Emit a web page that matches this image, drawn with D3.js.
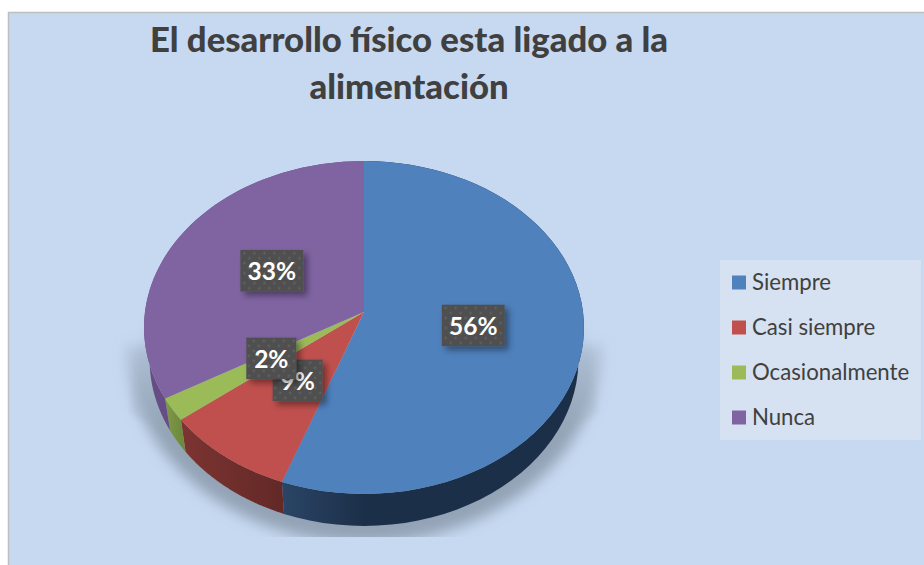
<!DOCTYPE html>
<html><head><meta charset="utf-8">
<script src="https://cdn.jsdelivr.net/npm/d3@7"></script>
<style>html,body{margin:0;padding:0;background:#fff;overflow:hidden}svg{display:block}text{font-family:Lato,"Open Sans",sans-serif}</style>
</head><body><svg id="c" width="924" height="565"></svg>
<script>
const categories = ["Siempre","Casi siempre","Ocasionalmente","Nunca"];
const counts = [25,4,1,15];
const faceColors = ["#4f81bd","#c0504d","#9bbb59","#8064a2"];
const wallLight = ["#2a4566","#7c3431","#7f9a48","#674d85"];
const wallDark = ["#1c2f49","#632927","#6f8a3d","#5b4476"];
const titleLines = ["El desarrollo físico esta ligado a la","alimentación"];

const W=924,H=565,cx=364,cy=312,a=219,b=165,k=0.0931,depth=32,wallTaper=0.975,labelR=0.5;
const svg=d3.select("#c");
const defs=svg.append("defs");
const total=d3.sum(counts);
const pct=d3.format(".0%");
const arcs=d3.pie().sort(null).value(d=>d)(counts);
const proj=(t,r=1)=>{const u=r*Math.sin(t),v=-r*Math.cos(t),w=1-k*v;return [cx+a*u/w,cy+b*v/w];};
const line=d3.line();
const samples=(s,e)=>d3.range(0,61).map(i=>s+(e-s)*i/60);

// background
svg.append("rect").attr("x",8.5).attr("y",12.5).attr("width",W).attr("height",H).attr("fill","#c6d9f1").attr("stroke","#bfbfbf").attr("stroke-width",1.5);

// soft shadow: a faint wedge on each side and a darker band hugging the wall
const blur=(id,sd)=>defs.append("filter").attr("id",id).attr("x","-20%").attr("y","-20%").attr("width","140%").attr("height","140%").append("feGaussianBlur").attr("stdDeviation",sd);
blur("blurBand",7); blur("blurWedge",3);
defs.append("clipPath").attr("id","shClip").append("rect").attr("x",0).attr("y",0).attr("width",W).attr("height",537);
const shGrad=defs.append("linearGradient").attr("id","shGrad").attr("gradientUnits","userSpaceOnUse").attr("x1",0).attr("x2",0).attr("y1",cy+10).attr("y2",cy+130);
shGrad.append("stop").attr("offset",0).attr("stop-color","#8a99ab").attr("stop-opacity",0.2);
shGrad.append("stop").attr("offset",1).attr("stop-color","#8a99ab").attr("stop-opacity",0.85);
const wedgeGrad=defs.append("linearGradient").attr("id","wedgeGrad").attr("gradientUnits","userSpaceOnUse").attr("x1",0).attr("x2",0).attr("y1",cy-15).attr("y2",cy+100);
wedgeGrad.append("stop").attr("offset",0).attr("stop-color","#9fafc2").attr("stop-opacity",0);
wedgeGrad.append("stop").attr("offset",1).attr("stop-color","#9fafc2").attr("stop-opacity",0.3);
const shadowCurve=samples(Math.PI/2,Math.PI*1.5).map(t=>[cx+238*Math.sin(t),cy+33-198*Math.cos(t)]);
const shG=svg.append("g").attr("clip-path","url(#shClip)");
[[1],[-1]].forEach(([s])=>{
  shG.append("path").attr("d",line([[cx+s*219,cy-15],[cx+s*234,cy+100],[cx+s*190,cy+130],[cx+s*190,cy]])+"Z")
    .attr("fill","url(#wedgeGrad)").attr("filter","url(#blurWedge)");
});
shG.append("path").attr("d",line(shadowCurve)+"Z").attr("fill","url(#shGrad)").attr("filter","url(#blurBand)");

// walls
arcs.forEach((d,i)=>{
  const id="wall"+i;
  const xs=[proj(d.startAngle)[0],proj(d.endAngle)[0]];
  const g=defs.append("linearGradient").attr("id",id).attr("gradientUnits","userSpaceOnUse")
    .attr("x1",Math.min(...xs)).attr("x2",Math.max(...xs)).attr("y1",0).attr("y2",0);
  g.append("stop").attr("offset",0).attr("stop-color",wallLight[i]);
  g.append("stop").attr("offset",1).attr("stop-color",wallDark[i]);
  const s=samples(d.startAngle,d.endAngle);
  const top=s.map(t=>proj(t));
  const bot=s.slice().reverse().map(t=>{const p=proj(t);return [cx+(p[0]-cx)*wallTaper,p[1]+depth];});
  svg.append("path").attr("d",line(top.concat(bot))+"Z").attr("fill",`url(#${id})`);
});

// top faces
arcs.forEach((d,i)=>{
  const pts=[[cx,cy],...samples(d.startAngle,d.endAngle).map(t=>proj(t))];
  svg.append("path").attr("d",line(pts)+"Z").attr("fill",faceColors[i]);
});

// title
svg.append("g").selectAll("text").data(titleLines).join("text")
  .attr("x",409).attr("y",(d,i)=>52+i*47).attr("text-anchor","middle")
  .attr("font-size",34.7).attr("font-weight",900).attr("fill","#404040").text(d=>d);

// label texture + shadow
const pat=defs.append("pattern").attr("id","dots").attr("patternUnits","userSpaceOnUse").attr("width",10).attr("height",10);
pat.append("rect").attr("width",10).attr("height",10).attr("fill","#505050");
[[2.5,2.5],[7.5,7.5]].forEach(c=>pat.append("circle").attr("cx",c[0]).attr("cy",c[1]).attr("r",0.9).attr("fill","#6b6b6b"));
const ds=defs.append("filter").attr("id","ds").attr("x","-30%").attr("y","-30%").attr("width","170%").attr("height","170%");
ds.append("feDropShadow").attr("dx",4).attr("dy",4).attr("stdDeviation",3).attr("flood-color","#000").attr("flood-opacity",0.4);

// data labels; Ocasionalmente sits above Casi siempre, as in the picture
[0,1,2,3].forEach(i=>{
  const d=arcs[i],m=(d.startAngle+d.endAngle)/2,p=proj(m,labelR);
  const txt=pct(counts[i]/total),bw=txt.length===3?63:50,bh=41.5;
  const g=svg.append("g").attr("transform",`translate(${p[0]+0.5},${p[1]-1})`);
  g.append("rect").attr("x",-bw/2).attr("y",-bh/2).attr("width",bw).attr("height",bh).attr("fill","url(#dots)").attr("filter","url(#ds)");
  g.append("text").attr("text-anchor","middle").attr("y",9.5).attr("font-size",24.5).attr("font-weight",700).attr("fill","#fff").text(txt);
});

// legend
svg.append("rect").attr("x",720).attr("y",260).attr("width",201).attr("height",180).attr("fill","#d6e2f1");
const ly=d3.scalePoint().domain(categories).range([282.5,417.5]);
const lg=svg.append("g").selectAll("g").data(categories).join("g").attr("transform",d=>`translate(732,${ly(d)})`);
lg.append("rect").attr("y",-7).attr("width",14).attr("height",14).attr("fill",(d,i)=>faceColors[i]);
lg.append("text").attr("x",20).attr("y",7).attr("font-size",22.2).attr("fill","#404040").text(d=>d);
</script></body></html>
